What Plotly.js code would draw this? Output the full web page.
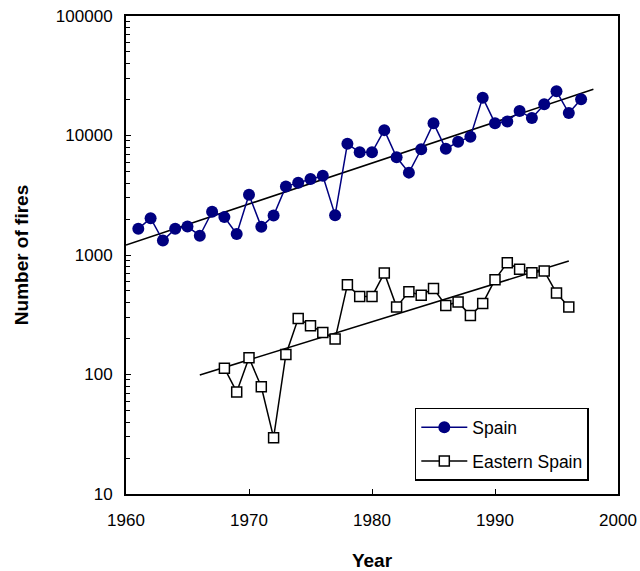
<!DOCTYPE html>
<html>
<head>
<meta charset="utf-8">
<script src="https://cdn.plot.ly/plotly-3.0.1.min.js"></script>
<style>html,body{margin:0;padding:0;background:#fff;}#chart{width:640px;height:571px;}</style>
</head>
<body>
<div id="chart"></div>
<script>
var spainYears = [1961,1962,1963,1964,1965,1966,1967,1968,1969,1970,1971,1972,1973,1974,1975,1976,1977,1978,1979,1980,1981,1982,1983,1984,1985,1986,1987,1988,1989,1990,1991,1992,1993,1994,1995,1996,1997];
var spainFires = [1655,2030,1320,1655,1730,1450,2300,2075,1500,3190,1720,2140,3750,4030,4330,4610,2155,8520,7240,7240,11090,6570,4890,7670,12690,7730,8850,9750,20740,12690,13110,16000,13980,18220,23420,15400,20070];

var eastYears = [1968,1969,1970,1971,1972,1973,1974,1975,1976,1977,1978,1979,1980,1981,1982,1983,1984,1985,1986,1987,1988,1989,1990,1991,1992,1993,1994,1995,1996];
var eastFires = [113,71.5,138,79,29.6,147,294,256,225,198,563,450,450,706,368,492,461,525,378,405,311,393,621,863,759,711,734,480,368];

var spainTrendYears = [1960,1998];
var spainTrendFires = [1213,24360];
var eastTrendYears = [1966,1996];
var eastTrendFires = [99,891];

var yTickVals = [10,100,1000,10000,100000];
var yTickText = ['10','100','1000','10000','100000'];
var xTickVals = [1960,1970,1980,1990,2000];

var font = 'Liberation Sans, Arial, sans-serif';

var traces = [
  {x: spainTrendYears, y: spainTrendFires, mode:'lines', line:{color:'#000', width:1.6}, showlegend:false, hoverinfo:'skip'},
  {x: eastTrendYears, y: eastTrendFires, mode:'lines', line:{color:'#000', width:1.6}, showlegend:false, hoverinfo:'skip'},
  {x: spainYears, y: spainFires, name:'Spain', mode:'lines+markers', legendgroup:'a',
   line:{color:'#000080', width:1.5}, marker:{symbol:'circle', size:12, color:'#000080', line:{width:0}}},
  {x: eastYears, y: eastFires, name:'Eastern Spain', mode:'lines+markers', legendgroup:'b',
   line:{color:'#000', width:1.5}, marker:{symbol:'square', size:10, color:'#fff', line:{color:'#000', width:1.5}}}
];

var layout = {
  width:640, height:571,
  margin:{l:126, r:22, t:16, b:77},
  paper_bgcolor:'#fff', plot_bgcolor:'#fff',
  font:{family:font, size:17, color:'#000'},
  showlegend:true,
  legend:{x:0.587, y:0.18, xanchor:'left', yanchor:'top', bgcolor:'#fff', bordercolor:'#000', borderwidth:1.5,
    font:{family:font, size:17.5, color:'#000'}, itemwidth:46, traceorder:'grouped', tracegroupgap:8},
  xaxis:{range:[1960,2000], tickvals:xTickVals, ticks:'inside', ticklen:5, tickwidth:1, tickcolor:'#000',
    showline:true, linecolor:'#000', linewidth:2, mirror:true, showgrid:false, zeroline:false,
    tickfont:{family:font, size:17}, ticklabelstandoff:10,
    title:{text:'<b>Year</b>', font:{family:font, size:19}, standoff:24}},
  yaxis:{type:'log', range:[1,5], tickvals:yTickVals, ticktext:yTickText, ticks:'inside', ticklen:5, tickwidth:1, tickcolor:'#000',
    minor:{ticks:'inside', ticklen:4, tickwidth:1, tickcolor:'#000', dtick:'D1', showgrid:false},
    showline:true, linecolor:'#000', linewidth:2, mirror:true, showgrid:false, zeroline:false,
    tickfont:{family:font, size:17}, ticklabelstandoff:8,
    title:{text:'<b>Number of fires</b>', font:{family:font, size:19}, standoff:22}}
};

Plotly.newPlot('chart', traces, layout, {displayModeBar:false, staticPlot:true});
</script>
</body>
</html>
